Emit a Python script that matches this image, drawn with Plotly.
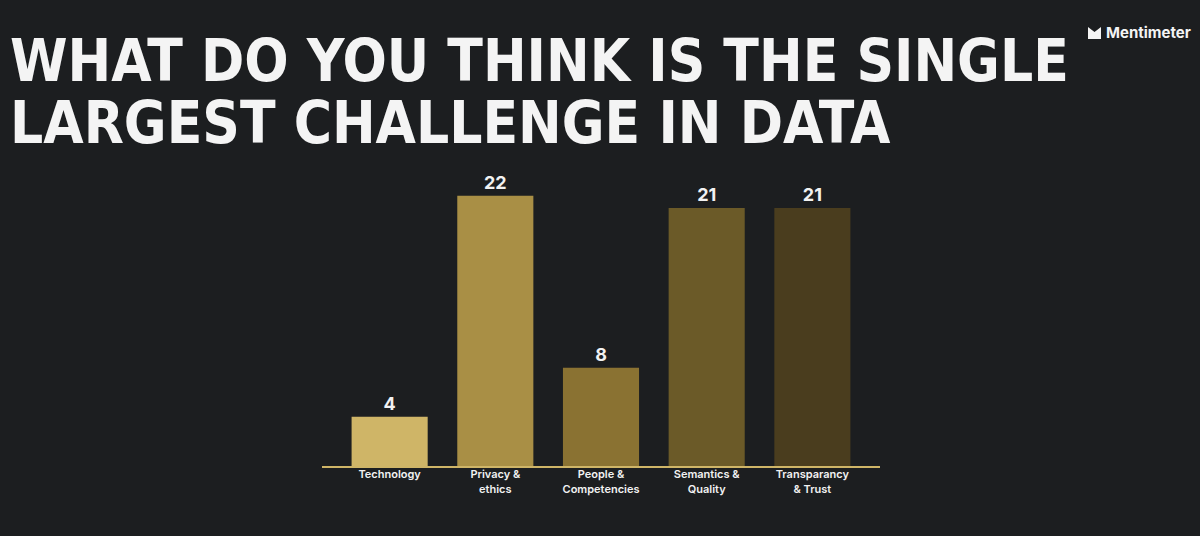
import plotly.graph_objects as go

# data
categories = ["Technology", "Privacy &<br>ethics", "People &<br>Competencies",
              "Semantics &<br>Quality", "Transparancy<br>& Trust"]
votes = [4, 22, 8, 21, 21]
bar_colors = ["#cfb567", "#a98f45", "#8a7232", "#6b5a28", "#4a3d1e"]

title_lines = ["WHAT DO YOU THINK IS THE SINGLE", "LARGEST CHALLENGE IN DATA"]

bg = "#1c1e20"

# plot area in pixels: x 322..880, y 170..466
def px(x):
    return (x - 322) / 558

def py(y):
    return (466 - y) / 296

bars = go.Bar(x=categories,
              y=votes,
              marker=dict(color=bar_colors, line=dict(width=0)),
              width=0.72,
              text=votes,
              textposition="outside",
              cliponaxis=False,
              textfont=dict(family="Inter, Lato, sans-serif", size=18,
                            color="#f2f2f2", weight="bold"))

fig = go.Figure(data=[bars])

fig.update_layout(width=1200, height=536,
                  paper_bgcolor=bg, plot_bgcolor=bg,
                  margin=dict(l=322, r=320, t=170, b=70),
                  showlegend=False)

fig.update_xaxes(showgrid=False, zeroline=False,
                 showline=True, linecolor="#cfb567", linewidth=2,
                 ticks="", range=[-0.64, 4.64],
                 ticklabelstandoff=-3,
                 tickfont=dict(family="Inter, Lato, sans-serif", size=11,
                               color="#f2f2f2", weight=600))
fig.update_yaxes(visible=False, range=[0, 24.1])

#Slide title
for i, line in enumerate(title_lines):
    fig.add_annotation(text=line, xref="paper", yref="paper",
                       x=px(8), y=py(61 + i * 62),
                       xanchor="left", yanchor="middle", showarrow=False,
                       font=dict(family="DejaVu Sans Condensed, sans-serif",
                                 size=58, color="#f4f4f4", weight="bold"))

#Mentimeter brand mark
fig.add_shape(type="path", xref="paper", yref="paper",
              path="M {0},{1} L {0},{2} L {3},{4} L {5},{2} L {5},{1} Z".format(
                  px(1088), py(39), py(27), px(1094.5), py(32), px(1101)),
              fillcolor="#f4f4f4", line=dict(width=0))
fig.add_annotation(text="Mentimeter", xref="paper", yref="paper",
                   x=px(1104), y=py(33),
                   xanchor="left", yanchor="middle", showarrow=False,
                   font=dict(family="Inter, sans-serif", size=15,
                             color="#f4f4f4", weight="bold"))

fig.write_html("out.html", config={"displayModeBar": False},
               post_script="document.body.style.margin='0';")
